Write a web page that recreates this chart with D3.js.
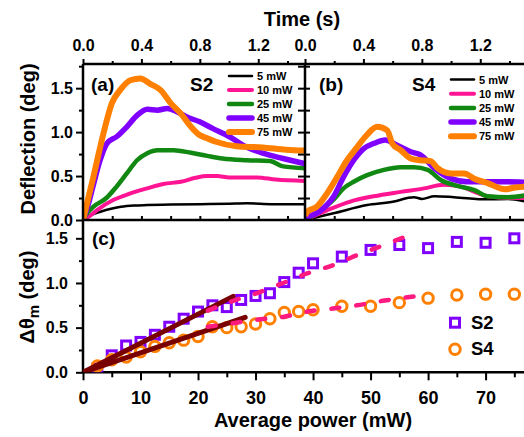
<!DOCTYPE html>
<html><head><meta charset="utf-8">
<script src="https://cdn.jsdelivr.net/npm/d3@7"></script>
<style>
body{margin:0;background:#fff;}
svg{display:block;font-family:"Liberation Sans",Arial,Helvetica,sans-serif;font-weight:bold;}
</style></head><body>
<svg id="chart" width="524" height="437"></svg>
<script>
// ---------- DATA ----------
const powerLabels = ["5 mW","10 mW","25 mW","45 mW","75 mW"];
const timeMajorTicks = [0, 0.4, 0.8, 1.2];
const timeMinorTicks = [0.2, 0.6, 1.0, 1.4];
const deflMajorTicks = [0, 0.5, 1.0, 1.5];
const deflMinorTicks = [0.25, 0.75, 1.25, 1.75];
const powerMajorTicks = [0, 10, 20, 30, 40, 50, 60, 70];
const powerMinorTicks = [5, 15, 25, 35, 45, 55, 65, 75];

// (a) S2 : [time (s), deflection (deg)]
const s2_5mW  = [[0,0],[0.05,0.05],[0.12,0.094],[0.2,0.13],[0.26,0.15],[0.35,0.165],[0.44,0.17],[0.6,0.175],[0.8,0.18],[1.0,0.185],[1.12,0.19],[1.3,0.18],[1.52,0.18]];
const s2_10mW = [[0,0],[0.05,0.05],[0.094,0.11],[0.21,0.23],[0.32,0.30],[0.44,0.36],[0.55,0.41],[0.67,0.435],[0.77,0.48],[0.85,0.50],[0.92,0.50],[1.0,0.485],[1.19,0.485],[1.32,0.46],[1.52,0.445]];
const s2_25mW = [[0,0],[0.03,0.08],[0.07,0.15],[0.16,0.25],[0.23,0.38],[0.30,0.53],[0.37,0.68],[0.44,0.76],[0.51,0.795],[0.62,0.795],[0.74,0.765],[0.85,0.73],[0.955,0.70],[1.12,0.68],[1.28,0.67],[1.37,0.61],[1.52,0.59]];
const s2_45mW = [[0,0],[0.04,0.2],[0.071,0.40],[0.117,0.68],[0.163,0.87],[0.232,0.95],[0.30,1.06],[0.37,1.19],[0.44,1.26],[0.51,1.25],[0.577,1.27],[0.646,1.23],[0.715,1.17],[0.795,1.12],[0.89,1.04],[1.0,0.95],[1.12,0.83],[1.23,0.76],[1.37,0.70],[1.52,0.64]];
const s2_75mW = [[0,0],[0.071,0.49],[0.14,0.985],[0.198,1.33],[0.255,1.48],[0.324,1.59],[0.393,1.61],[0.46,1.55],[0.53,1.48],[0.6,1.33],[0.67,1.21],[0.74,1.06],[0.795,0.97],[0.85,0.93],[0.91,0.89],[1.05,0.84],[1.23,0.826],[1.39,0.80],[1.52,0.79]];

// (b) S4
const s4_5mW  = [[0,0],[0.195,0.076],[0.425,0.17],[0.61,0.21],[0.70,0.25],[0.746,0.26],[0.80,0.24],[0.885,0.27],[1.02,0.26],[1.25,0.235],[1.39,0.24],[1.51,0.21]];
const s4_10mW = [[0,0],[0.15,0.11],[0.31,0.21],[0.47,0.27],[0.655,0.32],[0.815,0.36],[0.95,0.40],[1.07,0.38],[1.16,0.32],[1.25,0.27],[1.4,0.25],[1.51,0.25]];
const s4_25mW = [[0,0],[0.10,0.10],[0.195,0.23],[0.264,0.36],[0.333,0.435],[0.425,0.51],[0.54,0.57],[0.655,0.60],[0.746,0.60],[0.84,0.57],[0.93,0.455],[1.05,0.385],[1.16,0.34],[1.25,0.27],[1.39,0.26],[1.51,0.28]];
const s4_45mW = [[0,0.03],[0.10,0.10],[0.195,0.265],[0.264,0.49],[0.333,0.68],[0.40,0.81],[0.47,0.87],[0.55,0.91],[0.63,0.85],[0.724,0.776],[0.79,0.74],[0.885,0.59],[1.0,0.47],[1.11,0.435],[1.25,0.435],[1.37,0.435],[1.51,0.43]];
const s4_75mW = [[0,0.05],[0.02,0.1],[0.08,0.15],[0.15,0.30],[0.22,0.49],[0.288,0.68],[0.357,0.83],[0.425,0.97],[0.494,1.06],[0.563,1.02],[0.598,0.87],[0.655,0.795],[0.724,0.70],[0.79,0.68],[0.86,0.67],[0.908,0.59],[1.0,0.53],[1.09,0.53],[1.16,0.47],[1.25,0.42],[1.37,0.35],[1.44,0.37],[1.51,0.38]];

// (c) peak deflection vs average power
const avgPower = [2.5,5,7.5,10,12.5,15,17.5,20,22.5,25,27.5,30,32.5,35,37.5,40,45,50,55,60,65,70,75];
const dThetaS2 = [0.04,0.19,0.30,0.34,0.42,0.51,0.60,0.68,0.75,0.73,0.81,0.855,0.885,1.01,1.115,1.22,1.295,1.37,1.425,1.39,1.46,1.45,1.50];
const dThetaS4 = [0.07,0.14,0.17,0.23,0.29,0.33,0.36,0.40,0.51,0.50,0.51,0.54,0.60,0.67,0.68,0.70,0.74,0.74,0.78,0.83,0.866,0.875,0.875];
const fitS2 = [[21.7,0.69],[26.1,0.80],[30.4,0.89],[34.8,1.0],[39.1,1.11],[43.5,1.20],[47.6,1.31],[52.1,1.42],[58.3,1.575]];
const fitS4 = [[21.7,0.51],[26.1,0.55],[30.4,0.59],[34.8,0.62],[39.1,0.68],[43.5,0.715],[47.6,0.75],[52.1,0.80],[58.3,0.855]];
const linS2 = [[0,0],[26.1,0.85]];
const linS4 = [[0,0],[28.2,0.615]];

// ---------- STYLE ----------
const lineColors = ["#000000","#ff1493","#118811","#8000ff","#ff8000"];
const lineWidths = [2.5,4,4.5,5.5,6];
const S2col = "#8000ff", S4col = "#ff8000", dashCol = "#ff1a80", linCol = "#780000";

const svg = d3.select("#chart");

// ---------- SCALES ----------
const xA = d3.scaleLinear().domain([0,1.52]).range([83,305]);
const xB = d3.scaleLinear().domain([0,1.52]).range([305,527]);
const yT = d3.scaleLinear().domain([0,1.775]).range([220,64]);
const xC = d3.scaleLinear().domain([0,77.2]).range([83,527]);
const yC = d3.scaleLinear().domain([0,1.705]).range([372.3,220]);

// clip paths
const defs = svg.append("defs");
defs.append("clipPath").attr("id","clipA").append("rect").attr("x",83).attr("y",64).attr("width",222).attr("height",156);
defs.append("clipPath").attr("id","clipB").append("rect").attr("x",305).attr("y",64).attr("width",222).attr("height",156);
defs.append("clipPath").attr("id","clipC").append("rect").attr("x",83).attr("y",220).attr("width",444).attr("height",152.3);

// ---------- TOP PANELS ----------
function drawCurves(series, xs, clip){
  const g = svg.append("g").attr("clip-path",`url(#${clip})`);
  const line = d3.line().x(d=>xs(d[0])).y(d=>yT(d[1])).curve(d3.curveMonotoneX);
  series.forEach((s,i)=>{
    g.append("path").attr("d",line(s)).attr("fill","none")
      .attr("stroke",lineColors[i]).attr("stroke-width",lineWidths[i])
      .attr("stroke-linejoin","round");
  });
}
drawCurves([s2_5mW,s2_10mW,s2_25mW,s2_45mW,s2_75mW], xA, "clipA");
drawCurves([s4_5mW,s4_10mW,s4_25mW,s4_45mW,s4_75mW], xB, "clipB");

function styleAxis(g, fs){
  g.select(".domain").remove();
  g.selectAll(".tick line").attr("stroke","#000").attr("stroke-width",2);
  g.selectAll(".tick text").attr("fill","#000").attr("font-size",fs)
   .attr("font-family","'Liberation Sans',Arial,sans-serif").attr("font-weight","bold");
}
const fmt1 = d3.format(".1f");
// top time axes
[xA,xB].forEach(xs=>{
  svg.append("g").attr("transform","translate(0,64)")
    .call(d3.axisTop(xs).tickValues(timeMajorTicks).tickSize(5).tickPadding(8).tickFormat(fmt1))
    .call(g=>styleAxis(g,16));
  svg.append("g").attr("transform","translate(0,64)")
    .call(d3.axisTop(xs).tickValues(timeMinorTicks).tickSize(3).tickFormat(""))
    .call(g=>styleAxis(g,16));
  // inward ticks on bottom edge of top panels
  svg.append("g").attr("transform","translate(0,220)")
    .call(d3.axisTop(xs).tickValues(timeMajorTicks.concat(timeMinorTicks).filter(d=>d>0)).tickSize(4).tickFormat(""))
    .call(g=>styleAxis(g,16));
});
// left deflection axis
svg.append("g").attr("transform","translate(83,0)")
  .call(d3.axisLeft(yT).tickValues(deflMajorTicks).tickSize(7).tickPadding(3).tickFormat(fmt1))
  .call(g=>styleAxis(g,16));
svg.append("g").attr("transform","translate(83,0)")
  .call(d3.axisLeft(yT).tickValues(deflMinorTicks).tickSize(4).tickFormat(""))
  .call(g=>styleAxis(g,16));
// shared middle axis ticks (both sides)
svg.append("g").attr("transform","translate(305,0)")
  .call(d3.axisLeft(yT).tickValues(deflMajorTicks.concat(deflMinorTicks).filter(d=>d>0)).tickSize(7).tickFormat(""))
  .call(g=>styleAxis(g,16));
svg.append("g").attr("transform","translate(305,0)")
  .call(d3.axisRight(yT).tickValues(deflMajorTicks.concat(deflMinorTicks).filter(d=>d>0)).tickSize(5).tickFormat(""))
  .call(g=>styleAxis(g,16));

// frames
const frame = svg.append("g").attr("stroke","#000").attr("stroke-width",2.5).attr("fill","none");
frame.append("line").attr("x1",83).attr("x2",527).attr("y1",64).attr("y2",64);
frame.append("line").attr("x1",83).attr("x2",83).attr("y1",64).attr("y2",372.3);
frame.append("line").attr("x1",305).attr("x2",305).attr("y1",64).attr("y2",220);
frame.append("line").attr("x1",83).attr("x2",527).attr("y1",220).attr("y2",220);
frame.append("line").attr("x1",83).attr("x2",527).attr("y1",372.3).attr("y2",372.3);

// legends top
function drawLegend(x0, y0, step){
  powerLabels.forEach((lab,i)=>{
    const y = y0 + i*step;
    svg.append("line").attr("x1",x0).attr("x2",x0+23).attr("y1",y).attr("y2",y)
      .attr("stroke",lineColors[i]).attr("stroke-width",lineWidths[i]).attr("stroke-linecap","round");
    svg.append("text").attr("x",x0+28).attr("y",y+4).attr("font-size",11).text(lab);
  });
}
drawLegend(229, 76, 14);
drawLegend(451, 79.5, 14.2);

// panel labels
svg.append("text").attr("x",91).attr("y",91).attr("font-size",19).text("(a)");
svg.append("text").attr("x",190).attr("y",91).attr("font-size",19).text("S2");
svg.append("text").attr("x",319).attr("y",91).attr("font-size",19).text("(b)");
svg.append("text").attr("x",412).attr("y",91).attr("font-size",19).text("S4");
svg.append("text").attr("x",92).attr("y",245).attr("font-size",19).text("(c)");

// ---------- BOTTOM PANEL ----------
svg.append("g").attr("transform","translate(0,372.3)")
  .call(d3.axisBottom(xC).tickValues(powerMajorTicks).tickSize(8).tickPadding(11).tickFormat(d3.format("d")))
  .call(g=>styleAxis(g,18));
svg.append("g").attr("transform","translate(0,372.3)")
  .call(d3.axisBottom(xC).tickValues(powerMinorTicks).tickSize(5).tickFormat(""))
  .call(g=>styleAxis(g,18));
svg.append("g").attr("transform","translate(83,0)")
  .call(d3.axisLeft(yC).tickValues(deflMajorTicks).tickSize(7).tickPadding(8).tickFormat(fmt1))
  .call(g=>styleAxis(g,16));
svg.append("g").attr("transform","translate(83,0)")
  .call(d3.axisLeft(yC).tickValues([0.25,0.75,1.25]).tickSize(4).tickFormat(""))
  .call(g=>styleAxis(g,16));

const gc = svg.append("g").attr("clip-path","url(#clipC)");
gc.selectAll("rect.s2").data(avgPower.map((p,i)=>[p,dThetaS2[i]])).join("rect")
  .attr("class","s2").attr("x",d=>xC(d[0])-4.5).attr("y",d=>yC(d[1])-4.5)
  .attr("width",9).attr("height",9).attr("fill","none").attr("stroke",S2col).attr("stroke-width",3);
gc.selectAll("circle.s4").data(avgPower.map((p,i)=>[p,dThetaS4[i]])).join("circle")
  .attr("class","s4").attr("cx",d=>xC(d[0])).attr("cy",d=>yC(d[1])).attr("r",5.2)
  .attr("fill","none").attr("stroke",S4col).attr("stroke-width",3);

const lineC = d3.line().x(d=>xC(d[0])).y(d=>yC(d[1])).curve(d3.curveMonotoneX);
[linS2,linS4].forEach(s=>{
  gc.append("path").attr("d",lineC(s)).attr("stroke",linCol).attr("stroke-width",5)
    .attr("fill","none").attr("stroke-linecap","round");
});
[fitS2,fitS4].forEach(s=>{
  gc.append("path").attr("d",lineC(s)).attr("stroke",dashCol).attr("stroke-width",4.5)
    .attr("fill","none").attr("stroke-dasharray","8,17").attr("stroke-linecap","round");
});

// legend bottom
svg.append("rect").attr("x",455-4.5).attr("y",322.7-4.5).attr("width",9).attr("height",9)
  .attr("fill","none").attr("stroke",S2col).attr("stroke-width",3);
svg.append("circle").attr("cx",455).attr("cy",349.3).attr("r",5.2)
  .attr("fill","none").attr("stroke",S4col).attr("stroke-width",3);
svg.append("text").attr("x",471).attr("y",328.5).attr("font-size",18.5).text("S2");
svg.append("text").attr("x",471).attr("y",354.5).attr("font-size",18.5).text("S4");

// axis titles
svg.append("text").attr("x",302).attr("y",26).attr("text-anchor","middle").attr("font-size",20).text("Time (s)");
svg.append("text").attr("x",313).attr("y",427).attr("text-anchor","middle").attr("font-size",20).text("Average power (mW)");
svg.append("text").attr("transform","translate(35,139) rotate(-90)").attr("text-anchor","middle").attr("font-size",20).text("Deflection (deg)");
const t2 = svg.append("text").attr("transform","translate(34,297) rotate(-90)").attr("text-anchor","middle").attr("font-size",20);
t2.append("tspan").text("\u0394\u03b8");
t2.append("tspan").attr("dy",5).attr("font-size",15).text("m");
t2.append("tspan").attr("dy",-5).text(" (deg)");
</script>
</body></html>
